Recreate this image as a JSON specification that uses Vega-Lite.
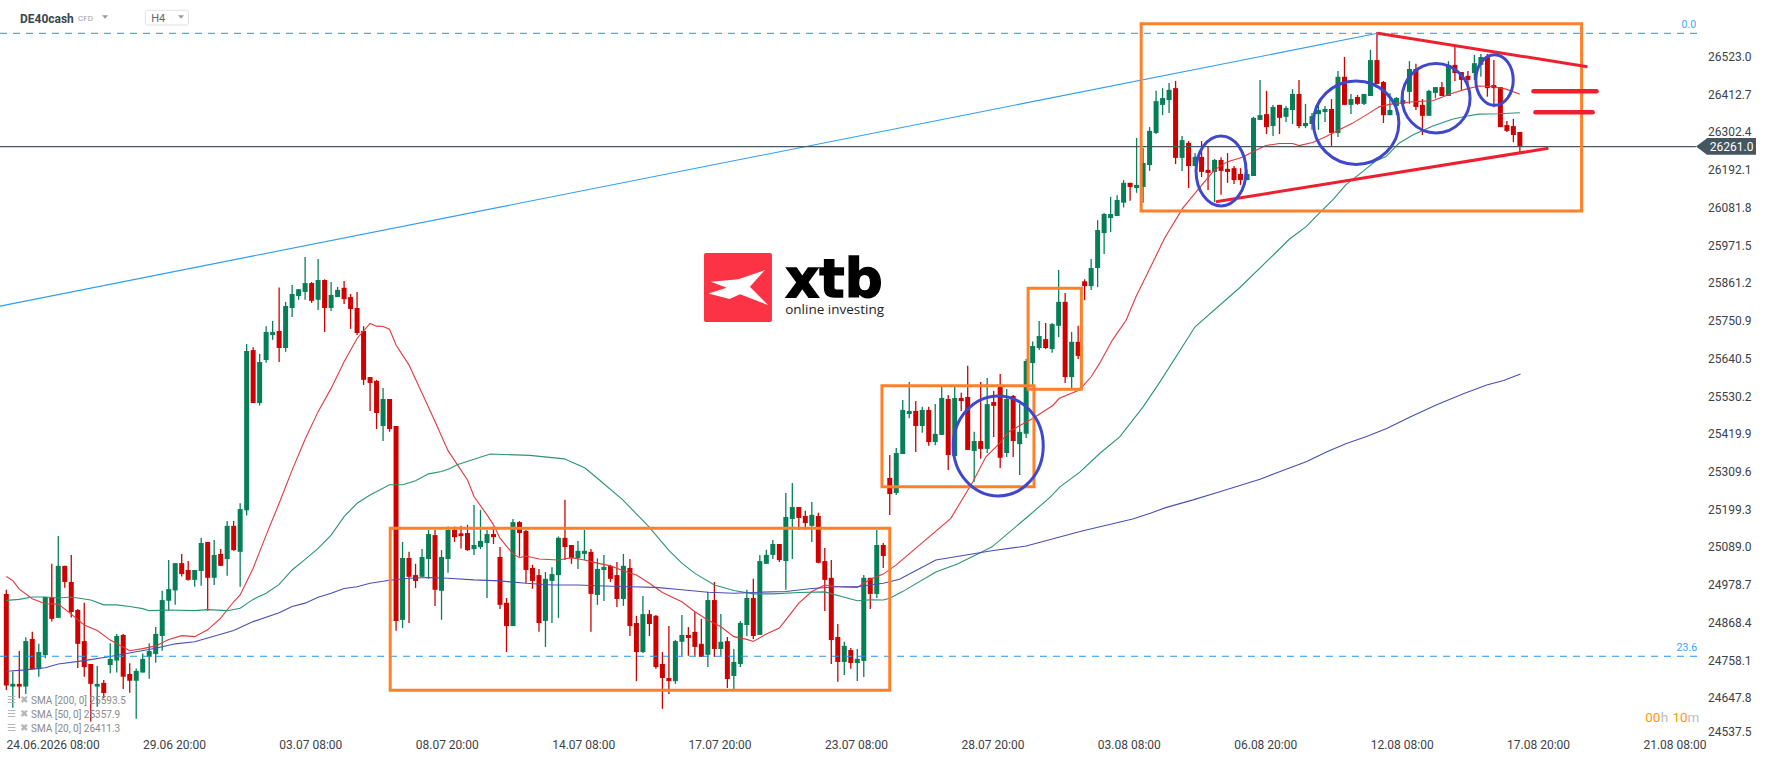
{
  "$schema": "https://vega.github.io/schema/vega-lite/v6.json",
  "width": 1700,
  "height": 736,
  "autosize": {"type": "none"},
  "padding": {"left": 0, "top": 0, "right": 68, "bottom": 25},
  "background": "white",
  "config": {"view": {"stroke": null}, "font": "Roboto"},
  "datasets": {
    "candles": [
      {"i":0,"o":24953,"h":24965,"l":24672,"c":24685},{"i":1,"o":24682,"h":24726,"l":24620,"c":24690},{"i":2,"o":24690,"h":24786,"l":24648,"c":24682},{"i":3,"o":24682,"h":24826,"l":24660,"c":24815},
      {"i":4,"o":24821,"h":24842,"l":24733,"c":24733},{"i":5,"o":24733,"h":24807,"l":24711,"c":24783},{"i":6,"o":24774,"h":24944,"l":24765,"c":24944},{"i":7,"o":24944,"h":25041,"l":24872,"c":24880},
      {"i":8,"o":24883,"h":25122,"l":24883,"c":25035},{"i":9,"o":25035,"h":25035,"l":24971,"c":24988},{"i":10,"o":24988,"h":25067,"l":24884,"c":24900},{"i":11,"o":24906,"h":24909,"l":24736,"c":24807},
      {"i":12,"o":24815,"h":24927,"l":24711,"c":24739},{"i":13,"o":24748,"h":24748,"l":24580,"c":24690},{"i":14,"o":24682,"h":24742,"l":24623,"c":24690},{"i":15,"o":24693,"h":24701,"l":24648,"c":24663},
      {"i":16,"o":24745,"h":24809,"l":24721,"c":24763},{"i":17,"o":24758,"h":24836,"l":24723,"c":24830},{"i":18,"o":24833,"h":24836,"l":24675,"c":24711},{"i":19,"o":24719,"h":24750,"l":24664,"c":24699},
      {"i":20,"o":24699,"h":24735,"l":24588,"c":24728},{"i":21,"o":24723,"h":24779,"l":24723,"c":24763},{"i":22,"o":24769,"h":24809,"l":24705,"c":24786},{"i":23,"o":24777,"h":24856,"l":24752,"c":24836},
      {"i":24,"o":24830,"h":24962,"l":24787,"c":24935},{"i":25,"o":24933,"h":25052,"l":24904,"c":24967},{"i":26,"o":24963,"h":25043,"l":24921,"c":25043},{"i":27,"o":25043,"h":25070,"l":25004,"c":25011},
      {"i":28,"o":25023,"h":25049,"l":24992,"c":24994},{"i":29,"o":24994,"h":25023,"l":24974,"c":25023},{"i":30,"o":25020,"h":25117,"l":24977,"c":25102},{"i":31,"o":25105,"h":25105,"l":24904,"c":25000},
      {"i":32,"o":25000,"h":25111,"l":24979,"c":25067},{"i":33,"o":25070,"h":25084,"l":25035,"c":25035},{"i":34,"o":25055,"h":25166,"l":25006,"c":25152},{"i":35,"o":25152,"h":25166,"l":25079,"c":25081},
      {"i":36,"o":25076,"h":25218,"l":24974,"c":25201},{"i":37,"o":25198,"h":25684,"l":25182,"c":25663},{"i":38,"o":25666,"h":25674,"l":25511,"c":25511},{"i":39,"o":25511,"h":25655,"l":25504,"c":25631},
      {"i":40,"o":25637,"h":25736,"l":25629,"c":25719},{"i":41,"o":25710,"h":25751,"l":25696,"c":25719},{"i":42,"o":25722,"h":25849,"l":25631,"c":25672},{"i":43,"o":25672,"h":25807,"l":25661,"c":25795},
      {"i":44,"o":25789,"h":25856,"l":25763,"c":25830},{"i":45,"o":25824,"h":25844,"l":25813,"c":25844},{"i":46,"o":25836,"h":25938,"l":25813,"c":25862},{"i":47,"o":25862,"h":25865,"l":25804,"c":25810},
      {"i":48,"o":25813,"h":25932,"l":25783,"c":25871},{"i":49,"o":25871,"h":25873,"l":25719,"c":25789},{"i":50,"o":25789,"h":25865,"l":25780,"c":25827},{"i":51,"o":25821,"h":25851,"l":25821,"c":25842},
      {"i":52,"o":25848,"h":25868,"l":25801,"c":25815},{"i":53,"o":25821,"h":25830,"l":25728,"c":25786},{"i":54,"o":25789,"h":25836,"l":25710,"c":25716},{"i":55,"o":25722,"h":25736,"l":25564,"c":25579},
      {"i":56,"o":25587,"h":25587,"l":25488,"c":25570},{"i":57,"o":25576,"h":25579,"l":25435,"c":25482},{"i":58,"o":25444,"h":25555,"l":25400,"c":25523},{"i":59,"o":25523,"h":25523,"l":25427,"c":25435},
      {"i":60,"o":25444,"h":25444,"l":24845,"c":24874},{"i":61,"o":24877,"h":25105,"l":24853,"c":25058},{"i":62,"o":25058,"h":25076,"l":24868,"c":25003},{"i":63,"o":25008,"h":25041,"l":24970,"c":24991},
      {"i":64,"o":25003,"h":25084,"l":25003,"c":25061},{"i":65,"o":25055,"h":25140,"l":24997,"c":25128},{"i":66,"o":25125,"h":25140,"l":24918,"c":24965},{"i":67,"o":24962,"h":25081,"l":24877,"c":25061},
      {"i":68,"o":25055,"h":25150,"l":25015,"c":25140},{"i":69,"o":25140,"h":25150,"l":25105,"c":25119},{"i":70,"o":25130,"h":25152,"l":25086,"c":25122},{"i":71,"o":25131,"h":25155,"l":25079,"c":25081},
      {"i":72,"o":25084,"h":25213,"l":25067,"c":25096},{"i":73,"o":25090,"h":25198,"l":25084,"c":25108},{"i":74,"o":25102,"h":25140,"l":24941,"c":25128},{"i":75,"o":25128,"h":25150,"l":25099,"c":25119},
      {"i":76,"o":25061,"h":25090,"l":24909,"c":24921},{"i":77,"o":24927,"h":24941,"l":24783,"c":24859},{"i":78,"o":24859,"h":25172,"l":24859,"c":25163},{"i":79,"o":25163,"h":25166,"l":25062,"c":25131},
      {"i":80,"o":25137,"h":25140,"l":24985,"c":25023},{"i":81,"o":25029,"h":25038,"l":24968,"c":24991},{"i":82,"o":25008,"h":25026,"l":24842,"c":24868},{"i":83,"o":24874,"h":25017,"l":24798,"c":24997},
      {"i":84,"o":24991,"h":25031,"l":24868,"c":25011},{"i":85,"o":25008,"h":25121,"l":24883,"c":25117},{"i":86,"o":25117,"h":25228,"l":25052,"c":25090},{"i":87,"o":25096,"h":25096,"l":25041,"c":25057},
      {"i":88,"o":25058,"h":25108,"l":25026,"c":25079},{"i":89,"o":25070,"h":25140,"l":25052,"c":25079},{"i":90,"o":25076,"h":25084,"l":24842,"c":24953},{"i":91,"o":24950,"h":25057,"l":24921,"c":25026},
      {"i":92,"o":25023,"h":25067,"l":24932,"c":25032},{"i":93,"o":25035,"h":25038,"l":24988,"c":24997},{"i":94,"o":25008,"h":25046,"l":24915,"c":24938},{"i":95,"o":24938,"h":25070,"l":24918,"c":25035},
      {"i":96,"o":25029,"h":25055,"l":24830,"c":24859},{"i":97,"o":24868,"h":24889,"l":24698,"c":24783},{"i":98,"o":24783,"h":24947,"l":24780,"c":24894},{"i":99,"o":24894,"h":24906,"l":24830,"c":24865},
      {"i":100,"o":24889,"h":24891,"l":24734,"c":24739},{"i":101,"o":24748,"h":24783,"l":24617,"c":24707},{"i":102,"o":24707,"h":24859,"l":24660,"c":24698},{"i":103,"o":24698,"h":24818,"l":24690,"c":24815},
      {"i":104,"o":24813,"h":24891,"l":24772,"c":24833},{"i":105,"o":24833,"h":24856,"l":24772,"c":24824},{"i":106,"o":24842,"h":24900,"l":24772,"c":24798},{"i":107,"o":24807,"h":24880,"l":24769,"c":24769},
      {"i":108,"o":24775,"h":24959,"l":24739,"c":24935},{"i":109,"o":24935,"h":24988,"l":24769,"c":24792},{"i":110,"o":24792,"h":24894,"l":24772,"c":24813},{"i":111,"o":24815,"h":24827,"l":24678,"c":24704},
      {"i":112,"o":24713,"h":24792,"l":24674,"c":24754},{"i":113,"o":24748,"h":24874,"l":24739,"c":24868},{"i":114,"o":24862,"h":24965,"l":24830,"c":24941},{"i":115,"o":24941,"h":24997,"l":24821,"c":24830},
      {"i":116,"o":24833,"h":25067,"l":24833,"c":25049},{"i":117,"o":25041,"h":25082,"l":25041,"c":25067},{"i":118,"o":25067,"h":25111,"l":25055,"c":25099},{"i":119,"o":25099,"h":25099,"l":25046,"c":25052},
      {"i":120,"o":25049,"h":25248,"l":24965,"c":25178},{"i":121,"o":25172,"h":25277,"l":25055,"c":25207},{"i":122,"o":25207,"h":25207,"l":25140,"c":25175},{"i":123,"o":25181,"h":25196,"l":25140,"c":25160},
      {"i":124,"o":25152,"h":25222,"l":25105,"c":25184},{"i":125,"o":25181,"h":25190,"l":25043,"c":25044},{"i":126,"o":25049,"h":25087,"l":24903,"c":24994},{"i":127,"o":25000,"h":25052,"l":24748,"c":24818},
      {"i":128,"o":24827,"h":24865,"l":24696,"c":24754},{"i":129,"o":24754,"h":24813,"l":24716,"c":24801},{"i":130,"o":24789,"h":24795,"l":24734,"c":24751},{"i":131,"o":24751,"h":24792,"l":24698,"c":24763},
      {"i":132,"o":24757,"h":25008,"l":24710,"c":25000},{"i":133,"o":25000,"h":25000,"l":24909,"c":24953},{"i":134,"o":24953,"h":25140,"l":24941,"c":25096},{"i":135,"o":25096,"h":25102,"l":25029,"c":25064},
      {"i":136,"o":25292,"h":25359,"l":25184,"c":25245},{"i":137,"o":25248,"h":25380,"l":25242,"c":25365},{"i":138,"o":25362,"h":25520,"l":25362,"c":25491},{"i":139,"o":25479,"h":25573,"l":25467,"c":25488},
      {"i":140,"o":25488,"h":25517,"l":25368,"c":25444},{"i":141,"o":25444,"h":25500,"l":25424,"c":25491},{"i":142,"o":25491,"h":25500,"l":25386,"c":25397},{"i":143,"o":25397,"h":25508,"l":25388,"c":25421},
      {"i":144,"o":25418,"h":25561,"l":25418,"c":25526},{"i":145,"o":25523,"h":25535,"l":25315,"c":25359},{"i":146,"o":25356,"h":25561,"l":25356,"c":25526},{"i":147,"o":25526,"h":25541,"l":25488,"c":25517},
      {"i":148,"o":25529,"h":25620,"l":25374,"c":25374},{"i":149,"o":25371,"h":25427,"l":25281,"c":25400},{"i":150,"o":25400,"h":25573,"l":25348,"c":25377},{"i":151,"o":25377,"h":25584,"l":25365,"c":25508},
      {"i":152,"o":25514,"h":25546,"l":25412,"c":25503},{"i":153,"o":25558,"h":25596,"l":25321,"c":25351},{"i":154,"o":25365,"h":25552,"l":25353,"c":25523},{"i":155,"o":25532,"h":25535,"l":25353,"c":25400},
      {"i":156,"o":25391,"h":25508,"l":25301,"c":25427},{"i":157,"o":25421,"h":25640,"l":25409,"c":25634},{"i":158,"o":25628,"h":25691,"l":25561,"c":25678},{"i":159,"o":25672,"h":25751,"l":25666,"c":25707},
      {"i":160,"o":25698,"h":25745,"l":25669,"c":25672},{"i":161,"o":25669,"h":25745,"l":25658,"c":25742},{"i":162,"o":25737,"h":25900,"l":25704,"c":25807},{"i":163,"o":25807,"h":25833,"l":25570,"c":25587},
      {"i":164,"o":25587,"h":25719,"l":25555,"c":25690},{"i":165,"o":25690,"h":25737,"l":25640,"c":25649},{"i":166,"o":25867,"h":25873,"l":25812,"c":25853},{"i":167,"o":25853,"h":25932,"l":25842,"c":25906},
      {"i":168,"o":25906,"h":26046,"l":25850,"c":26017},{"i":169,"o":26008,"h":26067,"l":25947,"c":26064},{"i":170,"o":26052,"h":26114,"l":26011,"c":26064},{"i":171,"o":26058,"h":26119,"l":26058,"c":26105},
      {"i":172,"o":26097,"h":26163,"l":26083,"c":26155},{"i":173,"o":26155,"h":26155,"l":26103,"c":26143},{"i":174,"o":26140,"h":26286,"l":26126,"c":26149},{"i":175,"o":26143,"h":26257,"l":26097,"c":26213},
      {"i":176,"o":26207,"h":26318,"l":26190,"c":26307},{"i":177,"o":26301,"h":26424,"l":26298,"c":26394},{"i":178,"o":26383,"h":26432,"l":26353,"c":26403},{"i":179,"o":26397,"h":26447,"l":26359,"c":26427},
      {"i":180,"o":26432,"h":26453,"l":26210,"c":26228},{"i":181,"o":26228,"h":26292,"l":26190,"c":26280},{"i":182,"o":26272,"h":26277,"l":26140,"c":26204},{"i":183,"o":26204,"h":26242,"l":26204,"c":26231},
      {"i":184,"o":26231,"h":26277,"l":26172,"c":26187},{"i":185,"o":26193,"h":26260,"l":26134,"c":26184},{"i":186,"o":26187,"h":26225,"l":26099,"c":26222},{"i":187,"o":26222,"h":26230,"l":26120,"c":26190},
      {"i":188,"o":26196,"h":26242,"l":26155,"c":26187},{"i":189,"o":26198,"h":26204,"l":26152,"c":26163},{"i":190,"o":26181,"h":26198,"l":26149,"c":26163},{"i":191,"o":26163,"h":26193,"l":26163,"c":26181},
      {"i":192,"o":26175,"h":26348,"l":26175,"c":26345},{"i":193,"o":26339,"h":26456,"l":26339,"c":26353},{"i":194,"o":26356,"h":26424,"l":26298,"c":26318},{"i":195,"o":26321,"h":26383,"l":26292,"c":26377},
      {"i":196,"o":26383,"h":26383,"l":26298,"c":26345},{"i":197,"o":26348,"h":26380,"l":26333,"c":26374},{"i":198,"o":26368,"h":26429,"l":26327,"c":26415},{"i":199,"o":26415,"h":26456,"l":26315,"c":26321},
      {"i":200,"o":26321,"h":26386,"l":26315,"c":26330},{"i":201,"o":26327,"h":26359,"l":26310,"c":26350},{"i":202,"o":26356,"h":26394,"l":26310,"c":26368},{"i":203,"o":26362,"h":26380,"l":26333,"c":26371},
      {"i":204,"o":26371,"h":26400,"l":26263,"c":26301},{"i":205,"o":26301,"h":26482,"l":26289,"c":26465},{"i":206,"o":26465,"h":26523,"l":26383,"c":26383},{"i":207,"o":26383,"h":26415,"l":26356,"c":26400},
      {"i":208,"o":26406,"h":26412,"l":26383,"c":26386},{"i":209,"o":26386,"h":26415,"l":26383,"c":26415},{"i":210,"o":26409,"h":26544,"l":26409,"c":26514},{"i":211,"o":26514,"h":26596,"l":26444,"c":26444},
      {"i":212,"o":26450,"h":26453,"l":26330,"c":26353},{"i":213,"o":26353,"h":26417,"l":26353,"c":26368},{"i":214,"o":26380,"h":26406,"l":26353,"c":26403},{"i":215,"o":26386,"h":26427,"l":26380,"c":26397},
      {"i":216,"o":26421,"h":26511,"l":26386,"c":26488},{"i":217,"o":26488,"h":26503,"l":26368,"c":26377},{"i":218,"o":26383,"h":26400,"l":26295,"c":26351},{"i":219,"o":26351,"h":26427,"l":26351,"c":26424},
      {"i":220,"o":26418,"h":26435,"l":26402,"c":26435},{"i":221,"o":26435,"h":26450,"l":26409,"c":26409},{"i":222,"o":26409,"h":26511,"l":26409,"c":26500},{"i":223,"o":26500,"h":26555,"l":26453,"c":26476},
      {"i":224,"o":26479,"h":26479,"l":26427,"c":26456},{"i":225,"o":26468,"h":26482,"l":26438,"c":26456},{"i":226,"o":26476,"h":26529,"l":26456,"c":26505},{"i":227,"o":26500,"h":26532,"l":26465,"c":26523},
      {"i":228,"o":26523,"h":26532,"l":26407,"c":26432},{"i":229,"o":26441,"h":26514,"l":26376,"c":26432},{"i":230,"o":26435,"h":26435,"l":26318,"c":26318},{"i":231,"o":26324,"h":26336,"l":26304,"c":26307},
      {"i":232,"o":26321,"h":26342,"l":26274,"c":26295},{"i":233,"o":26304,"h":26304,"l":26245,"c":26261}
    ],
    "sma": [
      {"s":"20","i":0,"p":25004},{"s":"20","i":1,"p":24992},{"s":"20","i":2,"p":24967},{"s":"20","i":4,"p":24939},{"s":"20","i":6,"p":24924},{"s":"20","i":8,"p":24923},{"s":"20","i":10,"p":24894},{"s":"20","i":12,"p":24862},{"s":"20","i":14,"p":24846},{"s":"20","i":16,"p":24818},{"s":"20","i":19,"p":24787},{"s":"20","i":21,"p":24793},{"s":"20","i":23,"p":24801},{"s":"20","i":25,"p":24820},{"s":"20","i":27,"p":24831},{"s":"20","i":29,"p":24828},{"s":"20","i":31,"p":24848},{"s":"20","i":33,"p":24882},{"s":"20","i":35,"p":24930},{"s":"20","i":36,"p":24950},{"s":"20","i":38,"p":25028},{"s":"20","i":40,"p":25125},{"s":"20","i":42,"p":25218},{"s":"20","i":44,"p":25315},{"s":"20","i":46,"p":25405},{"s":"20","i":48,"p":25486},{"s":"20","i":50,"p":25554},{"s":"20","i":52,"p":25632},{"s":"20","i":54,"p":25700},{"s":"20","i":56,"p":25744},{"s":"20","i":57,"p":25736},{"s":"20","i":58,"p":25735},{"s":"20","i":59,"p":25727},{"s":"20","i":60,"p":25681},{"s":"20","i":62,"p":25622},{"s":"20","i":64,"p":25540},{"s":"20","i":66,"p":25457},{"s":"20","i":68,"p":25372},{"s":"20","i":71,"p":25286},{"s":"20","i":72,"p":25238},{"s":"20","i":74,"p":25184},{"s":"20","i":75,"p":25155},{"s":"20","i":76,"p":25116},{"s":"20","i":78,"p":25070},{"s":"20","i":79,"p":25059},{"s":"20","i":80,"p":25064},{"s":"20","i":82,"p":25055},{"s":"20","i":85,"p":25052},{"s":"20","i":87,"p":25059},{"s":"20","i":89,"p":25052},{"s":"20","i":91,"p":25043},{"s":"20","i":93,"p":25035},{"s":"20","i":95,"p":25021},{"s":"20","i":97,"p":25008},{"s":"20","i":99,"p":24984},{"s":"20","i":101,"p":24957},{"s":"20","i":104,"p":24930},{"s":"20","i":106,"p":24901},{"s":"20","i":108,"p":24877},{"s":"20","i":110,"p":24857},{"s":"20","i":112,"p":24828},{"s":"20","i":114,"p":24820},{"s":"20","i":115,"p":24814},{"s":"20","i":117,"p":24836},{"s":"20","i":119,"p":24853},{"s":"20","i":120,"p":24877},{"s":"20","i":122,"p":24926},{"s":"20","i":124,"p":24960},{"s":"20","i":126,"p":24979},{"s":"20","i":128,"p":24974},{"s":"20","i":131,"p":24972},{"s":"20","i":133,"p":24996},{"s":"20","i":135,"p":25011},{"s":"20","i":137,"p":25038},{"s":"20","i":145.4,"p":25174},{"s":"20","i":148.8,"p":25281},{"s":"20","i":150.8,"p":25354},{"s":"20","i":152.9,"p":25393},{"s":"20","i":154.4,"p":25428},{"s":"20","i":158,"p":25466},{"s":"20","i":161.1,"p":25504},{"s":"20","i":162.1,"p":25525},{"s":"20","i":165.2,"p":25549},{"s":"20","i":167,"p":25588},{"s":"20","i":168.3,"p":25627},{"s":"20","i":170.3,"p":25696},{"s":"20","i":172.4,"p":25754},{"s":"20","i":173.9,"p":25822},{"s":"20","i":176.7,"p":25930},{"s":"20","i":178.3,"p":25993},{"s":"20","i":181.1,"p":26081},{"s":"20","i":183.6,"p":26139},{"s":"20","i":186,"p":26193},{"s":"20","i":188,"p":26217},{"s":"20","i":190.3,"p":26230},{"s":"20","i":191.9,"p":26246},{"s":"20","i":193.9,"p":26264},{"s":"20","i":196,"p":26270},{"s":"20","i":198,"p":26270},{"s":"20","i":199,"p":26264},{"s":"20","i":201.1,"p":26273},{"s":"20","i":203.1,"p":26290},{"s":"20","i":205.2,"p":26310},{"s":"20","i":207.2,"p":26329},{"s":"20","i":209.3,"p":26353},{"s":"20","i":211.4,"p":26378},{"s":"20","i":213.4,"p":26386},{"s":"20","i":216.5,"p":26392},{"s":"20","i":219.6,"p":26395},{"s":"20","i":222.6,"p":26417},{"s":"20","i":224.7,"p":26429},{"s":"20","i":226.7,"p":26438},{"s":"20","i":228.8,"p":26436},{"s":"20","i":230.9,"p":26429},{"s":"20","i":233,"p":26414},
      {"s":"50","i":0,"p":24934},{"s":"50","i":2,"p":24937},{"s":"50","i":4,"p":24944},{"s":"50","i":6,"p":24944},{"s":"50","i":8,"p":24941},{"s":"50","i":10,"p":24944},{"s":"50","i":13,"p":24935},{"s":"50","i":15,"p":24921},{"s":"50","i":17,"p":24921},{"s":"50","i":19,"p":24916},{"s":"50","i":21,"p":24910},{"s":"50","i":22,"p":24904},{"s":"50","i":25,"p":24906},{"s":"50","i":29,"p":24904},{"s":"50","i":31,"p":24907},{"s":"50","i":34,"p":24904},{"s":"50","i":36,"p":24911},{"s":"50","i":38,"p":24937},{"s":"50","i":40,"p":24955},{"s":"50","i":42,"p":24981},{"s":"50","i":44,"p":25023},{"s":"50","i":46,"p":25054},{"s":"50","i":48,"p":25086},{"s":"50","i":50,"p":25125},{"s":"50","i":52,"p":25179},{"s":"50","i":54,"p":25218},{"s":"50","i":56,"p":25242},{"s":"50","i":59,"p":25272},{"s":"50","i":61,"p":25272},{"s":"50","i":63,"p":25284},{"s":"50","i":65,"p":25304},{"s":"50","i":67,"p":25311},{"s":"50","i":68.3,"p":25320},{"s":"50","i":69.4,"p":25331},{"s":"50","i":74.5,"p":25362},{"s":"50","i":80.6,"p":25358},{"s":"50","i":85.9,"p":25348},{"s":"50","i":89.1,"p":25321},{"s":"50","i":91.3,"p":25286},{"s":"50","i":94.9,"p":25228},{"s":"50","i":98.9,"p":25150},{"s":"50","i":102,"p":25080},{"s":"50","i":104,"p":25043},{"s":"50","i":106,"p":25013},{"s":"50","i":109,"p":24979},{"s":"50","i":112,"p":24963},{"s":"50","i":115,"p":24953},{"s":"50","i":118,"p":24953},{"s":"50","i":122,"p":24957},{"s":"50","i":126,"p":24959},{"s":"50","i":129,"p":24943},{"s":"50","i":131,"p":24933},{"s":"50","i":133,"p":24936},{"s":"50","i":135,"p":24935},{"s":"50","i":136,"p":24940},{"s":"50","i":137.9,"p":24959},{"s":"50","i":143.1,"p":25017},{"s":"50","i":146.5,"p":25041},{"s":"50","i":151.7,"p":25090},{"s":"50","i":157,"p":25175},{"s":"50","i":160.7,"p":25236},{"s":"50","i":162.2,"p":25266},{"s":"50","i":165.3,"p":25310},{"s":"50","i":168.4,"p":25365},{"s":"50","i":171.4,"p":25412},{"s":"50","i":175,"p":25500},{"s":"50","i":177.6,"p":25573},{"s":"50","i":183,"p":25734},{"s":"50","i":189.9,"p":25849},{"s":"50","i":195.2,"p":25947},{"s":"50","i":197.5,"p":25990},{"s":"50","i":200.1,"p":26027},{"s":"50","i":202.1,"p":26066},{"s":"50","i":204.2,"p":26105},{"s":"50","i":206.2,"p":26149},{"s":"50","i":208.8,"p":26188},{"s":"50","i":210.8,"p":26219},{"s":"50","i":212.4,"p":26232},{"s":"50","i":214.4,"p":26271},{"s":"50","i":216.5,"p":26295},{"s":"50","i":219.6,"p":26321},{"s":"50","i":222.6,"p":26341},{"s":"50","i":224.7,"p":26350},{"s":"50","i":226.7,"p":26356},{"s":"50","i":229.8,"p":26357},{"s":"50","i":233,"p":26360},
      {"s":"200","i":0,"p":24727},{"s":"200","i":3,"p":24731},{"s":"200","i":6,"p":24737},{"s":"200","i":8,"p":24748},{"s":"200","i":12,"p":24758},{"s":"200","i":16,"p":24770},{"s":"200","i":20,"p":24784},{"s":"200","i":23,"p":24794},{"s":"200","i":26,"p":24807},{"s":"200","i":29,"p":24813},{"s":"200","i":33,"p":24835},{"s":"200","i":35,"p":24846},{"s":"200","i":38,"p":24872},{"s":"200","i":42,"p":24898},{"s":"200","i":44,"p":24916},{"s":"200","i":46,"p":24926},{"s":"200","i":48,"p":24943},{"s":"200","i":50,"p":24955},{"s":"200","i":52,"p":24969},{"s":"200","i":54,"p":24974},{"s":"200","i":56,"p":24984},{"s":"200","i":59,"p":24993},{"s":"200","i":62,"p":24999},{"s":"200","i":65,"p":25001},{"s":"200","i":68,"p":24999},{"s":"200","i":72,"p":24994},{"s":"200","i":76,"p":24991},{"s":"200","i":80,"p":24984},{"s":"200","i":84,"p":24979},{"s":"200","i":88,"p":24979},{"s":"200","i":92,"p":24976},{"s":"200","i":96,"p":24974},{"s":"200","i":100,"p":24972},{"s":"200","i":104,"p":24965},{"s":"200","i":108,"p":24958},{"s":"200","i":112,"p":24955},{"s":"200","i":116,"p":24958},{"s":"200","i":120,"p":24960},{"s":"200","i":124,"p":24969},{"s":"200","i":128,"p":24974},{"s":"200","i":131,"p":24974},{"s":"200","i":135,"p":24984},{"s":"200","i":137.5,"p":24996},{"s":"200","i":143.1,"p":25052},{"s":"200","i":151.7,"p":25079},{"s":"200","i":157,"p":25093},{"s":"200","i":165.6,"p":25137},{"s":"200","i":173.4,"p":25172},{"s":"200","i":176.1,"p":25189},{"s":"200","i":178.6,"p":25206},{"s":"200","i":182.7,"p":25228},{"s":"200","i":186.8,"p":25252},{"s":"200","i":193,"p":25288},{"s":"200","i":196.1,"p":25311},{"s":"200","i":200.2,"p":25340},{"s":"200","i":203.3,"p":25369},{"s":"200","i":206.3,"p":25393},{"s":"200","i":209.4,"p":25413},{"s":"200","i":212.5,"p":25437},{"s":"200","i":216.1,"p":25470},{"s":"200","i":220.2,"p":25506},{"s":"200","i":224.3,"p":25538},{"s":"200","i":227.9,"p":25564},{"s":"200","i":230.5,"p":25577},{"s":"200","i":233.1,"p":25596}
    ],
    "levels": [
      {"k":"fib0","i":-0.97,"p":26592.3},{"k":"fib0","i":260.73,"p":26592.3},
      {"k":"fib236","i":-0.97,"p":24770.7},{"k":"fib236","i":260.73,"p":24770.7},
      {"k":"last","i":-0.97,"p":26261},{"k":"last","i":260.1,"p":26261},
      {"k":"trend","i":-0.97,"p":25794.6},{"k":"trend","i":211.1,"p":26592.3},
      {"k":"upper","i":211.1,"p":26592.3},{"k":"upper","i":243.4,"p":26494.7},
      {"k":"lower","i":186.2,"p":26099.9},{"k":"lower","i":237.4,"p":26256.1},
      {"k":"h1","i":235.1,"p":26422.7},{"k":"h1","i":244.8,"p":26422.7},
      {"k":"h2","i":235.4,"p":26361.3},{"k":"h2","i":244.2,"p":26361.3}
    ],
    "boxes": [
      {"k":"orange","i":174.7,"i2":242.5,"p":26620.4,"p2":26072.7},
      {"k":"orange","i":59.1,"i2":136.0,"p":25144.9,"p2":24671.2},
      {"k":"orange","i":134.8,"i2":158.2,"p":25561.9,"p2":25266.6},
      {"k":"orange","i":157.3,"i2":165.5,"p":25846.7,"p2":25551.4},
      {"k":"logo","i":107.4,"i2":117.87,"p":25949.9,"p2":25748.2},
      {"k":"tag","i":261.8,"i2":269.35,"p":26286.2,"p2":26237.4},
      {"k":"h4","i":21.4,"i2":28.05,"p":26659.6,"p2":26616.6}
    ],
    "circles": [
      {"k":"c1","i":152.7,"p":25385.6},
      {"k":"c2","i":187.0,"p":26189.7},
      {"k":"c3","i":207.8,"p":26331},
      {"k":"c4","i":220.1,"p":26402.3},
      {"k":"c5","i":229.1,"p":26455.8}
    ],
    "marks": [
      {"k":"tagtip","i":260.96,"p":26261},
      {"k":"logox","i":112.64,"p":25849.1},
      {"k":"drop","i":15.2,"p":26640},
      {"k":"drop","i":26.9,"p":26640}
    ],
    "labels": [
      {"k":"symbol","text":"DE40cash","i":2.1,"p":26634},
      {"k":"cfd","text":"CFD","i":11.04,"p":26634},
      {"k":"h4","text":"H4","i":22.3,"p":26634},
      {"k":"sma","text":"SMA [200, 0] 25593.5","i":3.8,"p":24639},
      {"k":"sma","text":"SMA [50, 0] 25357.9","i":3.8,"p":24598},
      {"k":"sma","text":"SMA [20, 0] 26411.3","i":3.8,"p":24557},
      {"k":"icon","text":"☰","i":0.1,"p":24642},
      {"k":"icon","text":"☰","i":0.1,"p":24601},
      {"k":"icon","text":"☰","i":0.1,"p":24560},
      {"k":"icon","text":"✖","i":2.1,"p":24642},
      {"k":"icon","text":"✖","i":2.1,"p":24601},
      {"k":"icon","text":"✖","i":2.1,"p":24560},
      {"k":"fib","text":"0.0","i":259,"p":26607.8},
      {"k":"fib","text":"23.6","i":258.7,"p":24787},
      {"k":"xtb","text":"xtb","i":119.9,"p":25821.3},
      {"k":"tagline","text":"online investing","i":119.9,"p":25771.6},
      {"k":"tag","text":"26261.0","i":265.6,"p":26261},
      {"k":"countnum","text":"00","i":252.3,"p":24578.6},
      {"k":"countnum","text":"10","i":256.5,"p":24578.6},
      {"k":"countunit","text":"h","i":254.7,"p":24578.6},
      {"k":"countunit","text":"m","i":258.8,"p":24578.6},
      {"k":"price","text":"24537.5","i":261.96,"p":24549},
      {"k":"price","text":"24647.8","i":261.96,"p":24647.8},
      {"k":"price","text":"24758.1","i":261.96,"p":24758.1},
      {"k":"price","text":"24868.4","i":261.96,"p":24868.4},
      {"k":"price","text":"24978.7","i":261.96,"p":24978.7},
      {"k":"price","text":"25089.0","i":261.96,"p":25089.0},
      {"k":"price","text":"25199.3","i":261.96,"p":25199.3},
      {"k":"price","text":"25309.6","i":261.96,"p":25309.6},
      {"k":"price","text":"25419.9","i":261.96,"p":25419.9},
      {"k":"price","text":"25530.2","i":261.96,"p":25530.2},
      {"k":"price","text":"25640.5","i":261.96,"p":25640.5},
      {"k":"price","text":"25750.9","i":261.96,"p":25750.9},
      {"k":"price","text":"25861.2","i":261.96,"p":25861.2},
      {"k":"price","text":"25971.5","i":261.96,"p":25971.5},
      {"k":"price","text":"26081.8","i":261.96,"p":26081.8},
      {"k":"price","text":"26192.1","i":261.96,"p":26192.1},
      {"k":"price","text":"26302.4","i":261.96,"p":26302.4},
      {"k":"price","text":"26412.7","i":261.96,"p":26412.7},
      {"k":"price","text":"26523.0","i":261.96,"p":26523.0}
    ]
  },
  "encoding": {
    "x": {
      "field": "i",
      "type": "quantitative",
      "scale": {"domain": [-0.97, 260.73], "nice": false, "zero": false, "padding": 0},
      "axis": {
        "title": null,
        "grid": false,
        "domain": false,
        "ticks": false,
        "labelPadding": 3,
        "labelFont": "Roboto",
        "labelFontSize": 12,
        "labelColor": "#3c4248",
        "labelOverlap": false,
        "labelBound": false,
        "labelFlush": false,
        "values": [7.14, 25.8, 46.8, 67.8, 88.8, 109.8, 130.8, 151.8, 172.8, 193.8, 214.8, 235.8, 256.8],
        "labelExpr": "{'7.14':'24.06.2026 08:00','25.8':'29.06 20:00','46.8':'03.07 08:00','67.8':'08.07 20:00','88.8':'14.07 08:00','109.8':'17.07 20:00','130.8':'23.07 08:00','151.8':'28.07 20:00','172.8':'03.08 08:00','193.8':'06.08 20:00','214.8':'12.08 08:00','235.8':'17.08 20:00','256.8':'21.08 08:00'}['' + datum.value]"
      }
    },
    "y": {
      "field": "p",
      "type": "quantitative",
      "scale": {"domain": [24537.5, 26689.7], "nice": false, "zero": false},
      "axis": null
    }
  },
  "layer": [
    {
      "data": {"name": "boxes"},
      "transform": [{"filter": "datum.k == 'h4'"}],
      "mark": {"type": "rect", "fill": "white", "stroke": "#e0e0e0", "strokeWidth": 1, "cornerRadius": 2},
      "encoding": {"x2": {"field": "i2"}, "y2": {"field": "p2"}}
    },
    {
      "data": {"name": "candles"},
      "mark": {"type": "rule", "strokeWidth": 1.3},
      "encoding": {
        "y": {"field": "h", "type": "quantitative", "scale": {"domain": [24537.5, 26689.7], "nice": false, "zero": false}, "axis": null},
        "y2": {"field": "l"},
        "color": {"condition": {"test": "datum.c >= datum.o", "value": "#067f57"}, "value": "#cf0000"}
      }
    },
    {
      "data": {"name": "candles"},
      "mark": {"type": "bar", "size": 5},
      "encoding": {
        "y": {"field": "o", "type": "quantitative", "scale": {"domain": [24537.5, 26689.7], "nice": false, "zero": false}, "axis": null},
        "y2": {"field": "c"},
        "color": {"condition": {"test": "datum.c >= datum.o", "value": "#067f57"}, "value": "#cf0000"}
      }
    },
    {
      "data": {"name": "sma"},
      "mark": {"type": "line", "strokeWidth": 1.1, "interpolate": "linear"},
      "encoding": {
        "color": {"field": "s", "type": "nominal", "scale": {"domain": ["20", "50", "200"], "range": ["#e2393c", "#2a9473", "#4a4fb5"]}, "legend": null},
        "order": {"field": "i", "type": "quantitative"}
      }
    },
    {
      "data": {"name": "levels"},
      "transform": [{"filter": "datum.k == 'fib0' || datum.k == 'fib236'"}],
      "mark": {"type": "line", "strokeWidth": 1, "color": "#2196f3", "strokeDash": [7, 6]},
      "encoding": {"detail": {"field": "k"}}
    },
    {
      "data": {"name": "levels"},
      "transform": [{"filter": "datum.k == 'trend'"}],
      "mark": {"type": "line", "strokeWidth": 1.1, "color": "#2f9cf4"},
      "encoding": {}
    },
    {
      "data": {"name": "levels"},
      "transform": [{"filter": "datum.k == 'last'"}],
      "mark": {"type": "line", "strokeWidth": 1.2, "color": "#47575f"},
      "encoding": {}
    },
    {
      "data": {"name": "boxes"},
      "transform": [{"filter": "datum.k == 'orange'"}],
      "mark": {"type": "rect", "fill": "transparent", "stroke": "#ff8029", "strokeWidth": 3},
      "encoding": {"x2": {"field": "i2"}, "y2": {"field": "p2"}}
    },
    {
      "data": {"name": "levels"},
      "transform": [{"filter": "datum.k == 'upper' || datum.k == 'lower'"}],
      "mark": {"type": "line", "strokeWidth": 3, "color": "#ee1f2f"},
      "encoding": {"detail": {"field": "k"}}
    },
    {
      "data": {"name": "levels"},
      "transform": [{"filter": "datum.k == 'h1' || datum.k == 'h2'"}],
      "mark": {"type": "line", "strokeWidth": 4.5, "strokeCap": "round", "color": "#ee1f2f"},
      "encoding": {"detail": {"field": "k"}}
    },
    {
      "data": {"name": "circles"},
      "transform": [{"filter": "datum.k == 'c1'"}],
      "mark": {"type": "point", "shape": "M-0.9,0A0.9,1 0 1,0 0.9,0A0.9,1 0 1,0 -0.9,0Z", "size": 10000, "strokeWidth": 3, "color": "#3f48cc", "opacity": 1},
      "encoding": {}
    },
    {
      "data": {"name": "circles"},
      "transform": [{"filter": "datum.k == 'c2'"}],
      "mark": {"type": "point", "shape": "M-0.714,0A0.714,1 0 1,0 0.714,0A0.714,1 0 1,0 -0.714,0Z", "size": 4900, "strokeWidth": 3, "color": "#3f48cc", "opacity": 1},
      "encoding": {}
    },
    {
      "data": {"name": "circles"},
      "transform": [{"filter": "datum.k == 'c3'"}],
      "mark": {"type": "point", "shape": "M-1,0A1,0.977 0 1,0 1,0A1,0.977 0 1,0 -1,0Z", "size": 7293, "strokeWidth": 3, "color": "#3f48cc", "opacity": 1},
      "encoding": {}
    },
    {
      "data": {"name": "circles"},
      "transform": [{"filter": "datum.k == 'c4'"}],
      "mark": {"type": "point", "shape": "M-0.98,0A0.98,1 0 1,0 0.98,0A0.98,1 0 1,0 -0.98,0Z", "size": 4816, "strokeWidth": 3, "color": "#3f48cc", "opacity": 1},
      "encoding": {}
    },
    {
      "data": {"name": "circles"},
      "transform": [{"filter": "datum.k == 'c5'"}],
      "mark": {"type": "point", "shape": "M-0.739,0A0.739,1 0 1,0 0.739,0A0.739,1 0 1,0 -0.739,0Z", "size": 2560, "strokeWidth": 3, "color": "#3f48cc", "opacity": 1},
      "encoding": {}
    },
    {
      "data": {"name": "boxes"},
      "transform": [{"filter": "datum.k == 'logo'"}],
      "mark": {"type": "rect", "fill": "#fb3344", "cornerRadius": 2},
      "encoding": {"x2": {"field": "i2"}, "y2": {"field": "p2"}}
    },
    {
      "data": {"name": "marks"},
      "transform": [{"filter": "datum.k == 'logox'"}],
      "mark": {"type": "point", "filled": true, "opacity": 1, "color": "white", "size": 4624, "shape": "M-0.8,-0.17L0.01,-0.24L0.79,-0.51L0.35,-0.02L0.89,0.52L0.06,0.2L-0.25,0.34L-0.87,0.18L-0.33,0.01Z"},
      "encoding": {}
    },
    {
      "data": {"name": "boxes"},
      "transform": [{"filter": "datum.k == 'tag'"}],
      "mark": {"type": "rect", "fill": "#455660"},
      "encoding": {"x2": {"field": "i2"}, "y2": {"field": "p2"}}
    },
    {
      "data": {"name": "marks"},
      "transform": [{"filter": "datum.k == 'tagtip'"}],
      "mark": {"type": "point", "filled": true, "opacity": 1, "color": "#455660", "size": 121, "shape": "M1,-1.5L1,1.5L-1,0Z"},
      "encoding": {}
    },
    {
      "data": {"name": "marks"},
      "transform": [{"filter": "datum.k == 'drop'"}],
      "mark": {"type": "point", "filled": true, "opacity": 1, "color": "#9a9a9a", "size": 36, "shape": "M-1,-0.6L1,-0.6L0,0.6Z"},
      "encoding": {}
    },
    {
      "data": {"name": "labels"},
      "transform": [{"filter": "datum.k == 'price'"}],
      "mark": {"type": "text", "align": "left", "baseline": "middle", "font": "Roboto", "fontSize": 12, "color": "#3c4248"},
      "encoding": {"text": {"field": "text"}}
    },
    {
      "data": {"name": "labels"},
      "transform": [{"filter": "datum.k == 'symbol'"}],
      "mark": {"type": "text", "align": "left", "baseline": "middle", "font": "Roboto", "fontWeight": "bold", "fontSize": 12, "color": "#37474f"},
      "encoding": {"text": {"field": "text"}}
    },
    {
      "data": {"name": "labels"},
      "transform": [{"filter": "datum.k == 'cfd'"}],
      "mark": {"type": "text", "align": "left", "baseline": "middle", "font": "Roboto", "fontSize": 8, "color": "#9aa3a8"},
      "encoding": {"text": {"field": "text"}}
    },
    {
      "data": {"name": "labels"},
      "transform": [{"filter": "datum.k == 'h4'"}],
      "mark": {"type": "text", "align": "left", "baseline": "middle", "font": "Roboto", "fontSize": 11, "color": "#666666"},
      "encoding": {"text": {"field": "text"}}
    },
    {
      "data": {"name": "labels"},
      "transform": [{"filter": "datum.k == 'sma'"}],
      "mark": {"type": "text", "align": "left", "baseline": "middle", "font": "Roboto", "fontSize": 10, "color": "#8a8a8a"},
      "encoding": {"text": {"field": "text"}}
    },
    {
      "data": {"name": "labels"},
      "transform": [{"filter": "datum.k == 'icon'"}],
      "mark": {"type": "text", "align": "left", "baseline": "middle", "font": "DejaVu Sans", "fontSize": 10, "color": "#b5b5b5"},
      "encoding": {"text": {"field": "text"}}
    },
    {
      "data": {"name": "labels"},
      "transform": [{"filter": "datum.k == 'fib'"}],
      "mark": {"type": "text", "align": "center", "baseline": "alphabetic", "font": "Roboto", "fontSize": 10.5, "color": "#42a5f5"},
      "encoding": {"text": {"field": "text"}}
    },
    {
      "data": {"name": "labels"},
      "transform": [{"filter": "datum.k == 'xtb'"}],
      "mark": {"type": "text", "align": "left", "baseline": "alphabetic", "font": "DejaVu Sans", "fontWeight": "bold", "fontSize": 53, "color": "#000000", "stroke": "#000000", "strokeWidth": 1.4},
      "encoding": {"text": {"field": "text"}}
    },
    {
      "data": {"name": "labels"},
      "transform": [{"filter": "datum.k == 'tagline'"}],
      "mark": {"type": "text", "align": "left", "baseline": "alphabetic", "font": "Open Sans", "fontSize": 13.5, "color": "#222222"},
      "encoding": {"text": {"field": "text"}}
    },
    {
      "data": {"name": "labels"},
      "transform": [{"filter": "datum.k == 'tag'"}],
      "mark": {"type": "text", "align": "center", "baseline": "middle", "font": "Roboto", "fontSize": 12, "color": "white"},
      "encoding": {"text": {"field": "text"}}
    },
    {
      "data": {"name": "labels"},
      "transform": [{"filter": "datum.k == 'countnum'"}],
      "mark": {"type": "text", "align": "left", "baseline": "alphabetic", "font": "Roboto", "fontSize": 13.5, "color": "#ff9800"},
      "encoding": {"text": {"field": "text"}}
    },
    {
      "data": {"name": "labels"},
      "transform": [{"filter": "datum.k == 'countunit'"}],
      "mark": {"type": "text", "align": "left", "baseline": "alphabetic", "font": "Roboto", "fontSize": 13.5, "color": "#bdbdbd"},
      "encoding": {"text": {"field": "text"}}
    }
  ]
}
